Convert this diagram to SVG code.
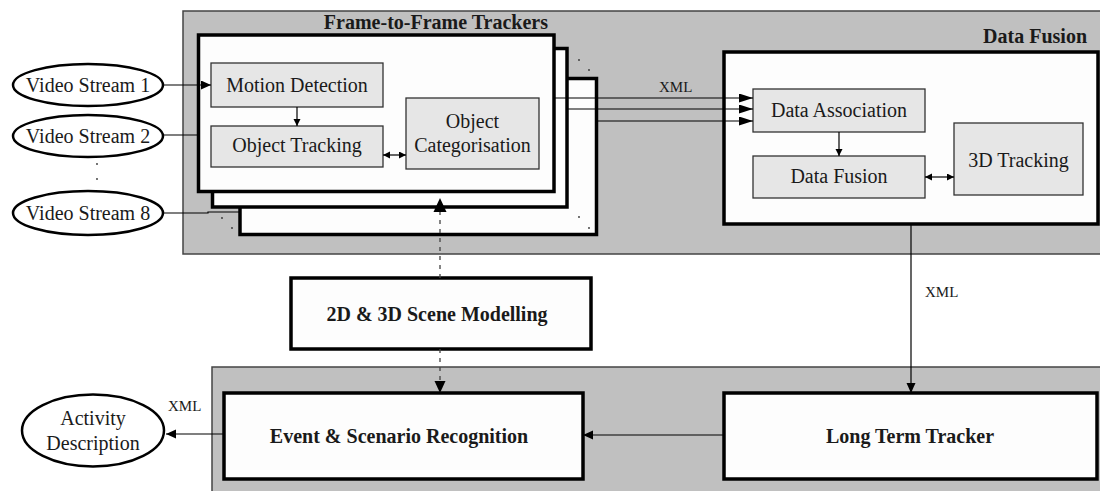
<svg xmlns="http://www.w3.org/2000/svg" width="1100" height="491" viewBox="0 0 1100 491">
<defs>
<style>
text{font-family:"Liberation Serif","Times New Roman",serif;fill:#1a1a1a;font-size:20px}
.b{font-weight:bold}
.c{text-anchor:middle}
.x{font-size:15px}
.panel{fill:#c0c0c0;stroke:#444;stroke-width:1.5}
.big{fill:#fdfdfd;stroke:#000;stroke-width:3.5}
.inner{fill:#e6e6e6;stroke:#333;stroke-width:1.3}
.ell{fill:#fff;stroke:#000;stroke-width:2.5}
.ln{fill:none;stroke:#000;stroke-width:1.2}
.dash{fill:none;stroke:#444;stroke-width:1.3;stroke-dasharray:4 5}
.dot{fill:#333}
</style>
<marker id="ahM" markerUnits="userSpaceOnUse" markerWidth="11" markerHeight="10" refX="10" refY="4.5" orient="auto"><path d="M0,0 L10,4.5 L0,9 z" fill="#000"/></marker>
<marker id="ahS" markerUnits="userSpaceOnUse" markerWidth="8" markerHeight="8" refX="7" refY="3.5" orient="auto-start-reverse"><path d="M0,0 L7,3.5 L0,7 z" fill="#000"/></marker>
<marker id="ahL" markerUnits="userSpaceOnUse" markerWidth="15" markerHeight="10" refX="14" refY="4.5" orient="auto"><path d="M0,0 L14,4.5 L0,9 z" fill="#000"/></marker>
</defs>

<rect width="1100" height="491" fill="#fff"/>

<g id="panel-top"><rect class="panel" x="183" y="11" width="920" height="243"/></g>
<g id="panel-bottom"><rect class="panel" x="212" y="367" width="891" height="130"/></g>

<g id="tracker-stack">
<rect class="big" x="240" y="78.5" width="356.5" height="156"/>
<rect class="big" x="212.5" y="48.5" width="354.5" height="158.5"/>
<rect class="big" x="198.5" y="35" width="355.5" height="156.5"/>
<circle class="dot" cx="579" cy="60" r="0.9"/>
<circle class="dot" cx="589" cy="70" r="0.9"/>
<circle class="dot" cx="579" cy="217" r="0.9"/>
<circle class="dot" cx="589" cy="228" r="0.9"/>
<circle class="dot" cx="222" cy="218" r="0.9"/>
<circle class="dot" cx="232" cy="228" r="0.9"/>
<text class="b" x="548" y="29" text-anchor="end">Frame-to-Frame Trackers</text>
</g>

<g id="motion-detection"><rect class="inner" x="211" y="63" width="172" height="44"/><text class="c" x="297" y="92">Motion Detection</text></g>
<g id="object-tracking"><rect class="inner" x="211" y="126" width="172" height="41"/><text class="c" x="297" y="152">Object Tracking</text></g>
<g id="object-categorisation"><rect class="inner" x="406" y="98" width="133" height="71"/><text class="c" x="472.5" y="128">Object</text><text class="c" x="472.5" y="152">Categorisation</text></g>

<g id="data-fusion-group">
<rect class="big" x="724" y="52" width="374" height="172"/>
<text class="b" x="1087" y="43" text-anchor="end">Data Fusion</text>
</g>
<g id="data-association"><rect class="inner" x="753" y="89" width="172" height="43"/><text class="c" x="839" y="117">Data Association</text></g>
<g id="data-fusion"><rect class="inner" x="753" y="156" width="172" height="42"/><text class="c" x="839" y="183">Data Fusion</text></g>
<g id="tracking-3d"><rect class="inner" x="954" y="123" width="129" height="72"/><text class="c" x="1018.5" y="167">3D Tracking</text></g>

<g id="video-stream-1"><ellipse class="ell" cx="88" cy="85" rx="75" ry="21"/><text class="c" x="88" y="92">Video Stream 1</text></g>
<g id="video-stream-2"><ellipse class="ell" cx="88" cy="136" rx="75" ry="21"/><text class="c" x="88" y="143">Video Stream 2</text></g>
<g id="video-stream-dots"><circle class="dot" cx="97" cy="164" r="0.9"/><circle class="dot" cx="97" cy="179" r="0.9"/></g>
<g id="video-stream-8"><ellipse class="ell" cx="88" cy="213" rx="75" ry="22"/><text class="c" x="88" y="220">Video Stream 8</text></g>

<g id="scene-modelling"><rect class="big" x="291" y="278" width="300" height="71"/><text class="b c" x="437" y="321">2D &amp; 3D Scene Modelling</text></g>
<g id="event-recognition"><rect class="big" x="224" y="393" width="359" height="86"/><text class="b c" x="399" y="443">Event &amp; Scenario Recognition</text></g>
<g id="long-term-tracker"><rect class="big" x="724" y="393" width="373" height="86"/><text class="b c" x="910" y="443">Long Term Tracker</text></g>
<g id="activity-description"><ellipse class="ell" cx="93" cy="430.5" rx="71" ry="36"/><text class="c" x="93" y="425">Activity</text><text class="c" x="93" y="450">Description</text></g>

<g id="connectors">
<line class="ln" x1="163" y1="85" x2="211" y2="85" marker-end="url(#ahM)"/>
<line class="ln" x1="163" y1="135" x2="197" y2="135"/>
<polyline class="ln" points="163,213 208,213 208,212 240,212"/>
<line class="ln" x1="297" y1="107" x2="297" y2="126" marker-end="url(#ahS)"/>
<line class="ln" x1="383" y1="155" x2="406" y2="155" marker-start="url(#ahS)" marker-end="url(#ahS)"/>
<line class="ln" x1="554" y1="98" x2="753" y2="98" marker-end="url(#ahL)"/>
<line class="ln" x1="568" y1="109" x2="753" y2="109" marker-end="url(#ahL)"/>
<line class="ln" x1="597" y1="121" x2="753" y2="121" marker-end="url(#ahL)"/>
<text class="x" x="659" y="92">XML</text>
<line class="ln" x1="839" y1="132" x2="839" y2="156" marker-end="url(#ahS)"/>
<line class="ln" x1="925" y1="177" x2="954" y2="177" marker-start="url(#ahS)" marker-end="url(#ahS)"/>
<line class="ln" x1="911" y1="224" x2="911" y2="393" marker-end="url(#ahM)"/>
<text class="x" x="925" y="297">XML</text>
<line class="dash" x1="440" y1="278" x2="440" y2="210"/>
<path d="M433.5,212 L440,198 L446.5,212 z" fill="#000"/>
<line class="dash" x1="440" y1="349" x2="440" y2="383"/>
<path d="M434.5,381 L440,393 L445.5,381 z" fill="#000"/>
<line class="ln" x1="724" y1="435" x2="583" y2="435" marker-end="url(#ahM)"/>
<line class="ln" x1="224" y1="434" x2="166" y2="434" marker-end="url(#ahM)"/>
<text class="x" x="168" y="411">XML</text>
</g>
</svg>
